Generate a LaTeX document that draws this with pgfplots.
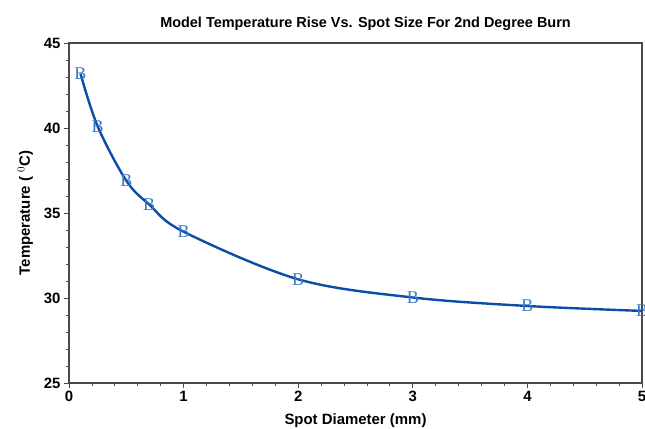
\documentclass[border=0pt]{standalone}
\usepackage{fontspec}
\setmainfont{Liberation Sans}
\newfontfamily\markfont{Liberation Serif}
\usepackage{pgfplots}
\pgfplotsset{compat=1.18}
\usetikzlibrary{calc}
\definecolor{curveblue}{HTML}{0A4DA8}
\definecolor{markblue}{HTML}{3A78C8}
\definecolor{axgray}{HTML}{4A4A4A}
\begin{document}
\begin{tikzpicture}
\begin{axis}[
  name=ax,
  width=573bp, height=340bp, scale only axis,
  xmin=0, xmax=5, ymin=25, ymax=45,
  xtick={0,1,2,3,4,5}, ytick={25,30,35,40,45},
  minor x tick num=4, minor y tick num=4,
  tick align=outside, xtick pos=bottom, ytick pos=left,
  major tick length=5bp, minor tick length=3bp,
  tick style={axgray, line width=0.8bp},
  axis line style={axgray, line width=1.6bp},
  /pgf/number format/assume math mode=true,
  ticklabel style={font=\bfseries\fontsize{15}{17}\selectfont},
  xlabel={Spot Diameter (mm)},
  ylabel={Temperature ( $^{0}$C)},
  label style={font=\bfseries\fontsize{15}{17}\selectfont},
  xlabel style={yshift=-5bp},
  ylabel style={yshift=4bp},
  title={Model Temperature Rise Vs. Spot Size For 2nd Degree Burn},
  title style={font=\bfseries\fontsize{14.5}{16}\selectfont, xshift=10bp, yshift=3bp},
  clip=false,
]
\addplot[curveblue, line width=2.4bp, smooth, tension=0.55,
  mark=text, text mark={\markfont\fontsize{18}{18}\selectfont\textcolor{markblue}{B}},
  mark options={solid}]
  coordinates {(0.1,43.2) (0.25,40.1) (0.5,36.9) (0.7,35.5) (1,33.9) (2,31.1) (3,30.03) (4,29.53) (5,29.24)};
\end{axis}
\pgfresetboundingbox
\path[use as bounding box] ($(ax.south west)+(-69bp,-45bp)$) rectangle ($(ax.north east)+(3bp,43bp)$);
\end{tikzpicture}
\end{document}
